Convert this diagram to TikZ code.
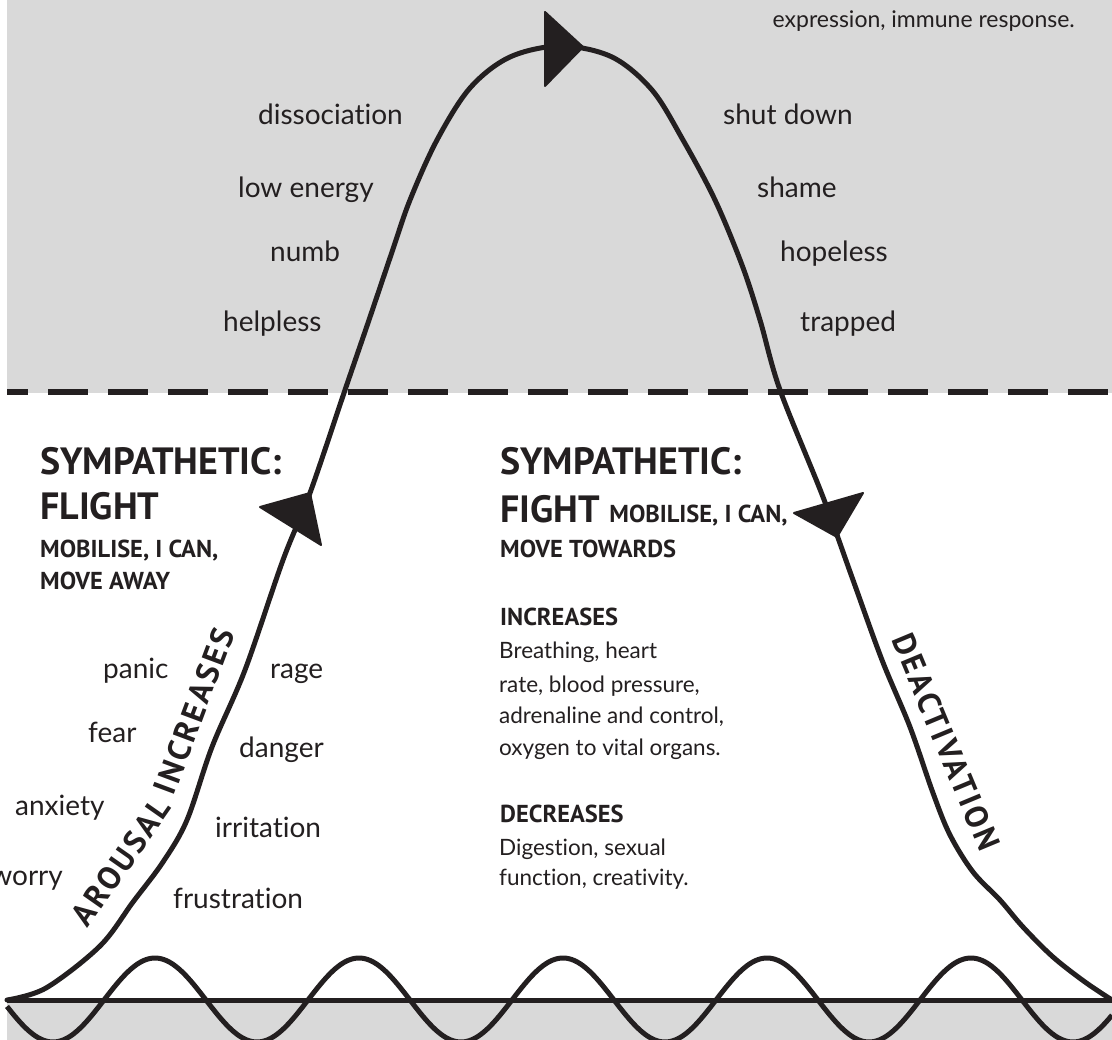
\documentclass[tikz,border=0pt]{standalone}
\usepackage{fontspec}
\setmainfont{Lato}[Ligatures=NoCommon]
\newfontfamily\headfont{PT Sans}
\newfontfamily\pathfont{PT Sans}[LetterSpace=8]
\definecolor{ink}{HTML}{231F20}
\definecolor{shadegray}{HTML}{D9D9D9}
\begin{document}
\begin{tikzpicture}[x=1pt,y=-1pt,
  word/.style={font=\fontsize{28}{30}\selectfont, text=ink, inner sep=0pt},
  toptext/.style={font=\fontsize{23}{25}\selectfont, text=ink, inner sep=0pt},
  body/.style={font=\fontsize{22.5}{24}\selectfont, text=ink, inner sep=0pt},
  bighead/.style={font=\headfont\bfseries\fontsize{38}{40}\selectfont, text=ink, inner sep=0pt},
  smallhead/.style={font=\headfont\bfseries\fontsize{24.5}{26}\selectfont, text=ink, inner sep=0pt},
  pathlabel/.style={font=\pathfont\bfseries\fontsize{32}{34}\selectfont, text=ink, inner sep=0pt},
  inkline/.style={draw=ink, line width=5pt},
  dashline/.style={draw=ink, line width=6pt, dash pattern=on 40pt off 20pt, dash phase=19pt},
  tri/.style={fill=ink, draw=ink, line width=2pt, line join=round}
]
\useasboundingbox (0,0) rectangle (1112,1040);
\clip (0,0) rectangle (1112,1040);
% shaded bands
\fill[shadegray] (7,0) rectangle (1112,393);
\fill[shadegray] (7,1000) rectangle (1112,1040);
\draw[dashline] (7,392) -- (1112,392);
% baseline and wave
\draw[inkline] (7,1000) -- (1112,1000);
\draw[inkline, line join=round] plot[domain=7:1112, samples=240, smooth] (\x, {1000 + 42*sin((\x-2)/204*360)});
% main curve
\draw[inkline, line cap=round, line join=round] plot[smooth, tension=0.55] coordinates {
 (7,1000) (46,988) (100,946) (133,902) (163,862) (187,820) (212,747) (245,670)
 (283,560) (310,493) (345,390) (369,320) (392,252) (410,200) (437,140) (470,88)
 (510,57) (561,46) (612,57) (652,90) (683,140) (715,200)
 (742,265) (760,320) (780,390) (823,497) (853,580) (882,660) (910,727) (933,793)
 (950,835) (973,872) (1000,900) (1023,927) (1053,957) (1085,982) (1112,1000)};
% arrowheads
\fill[tri] (545,12) -- (583,47) -- (545,86) -- cycle;
\fill[tri] (260,507) -- (310,493) -- (321,545) -- cycle;
\fill[tri] (794,513) -- (863,493) -- (837,537) -- cycle;
% top texts
\node[toptext, anchor=base east] (expr) at (1075,28) {expression, immune response.};
\node[word, anchor=base west] (diss) at (258,125) {dissociation};
\node[word, anchor=base west] (lowe) at (238,198) {low energy};
\node[word, anchor=base west] (numb) at (270,262) {numb};
\node[word, anchor=base west] (help) at (223,332) {helpless};
\node[word, anchor=base west] (shut) at (723,125) {shut down};
\node[word, anchor=base west] (shame) at (757,198) {shame};
\node[word, anchor=base west] (hope) at (780,262) {hopeless};
\node[word, anchor=base west] (trap) at (800,332) {trapped};
% left headings
\node[bighead, anchor=base west] (symL) at (40,475) {SYMPATHETIC:};
\node[bighead, anchor=base west] (flight) at (40,520) {FLIGHT};
\node[smallhead, anchor=base west] (mobL) at (40,558) {MOBILISE, I CAN,};
\node[smallhead, anchor=base west] (away) at (40,590) {MOVE AWAY};
% left words
\node[word, anchor=base west] (panic) at (103,678) {panic};
\node[word, anchor=base west] (fear) at (88,742) {fear};
\node[word, anchor=base west] (anx) at (15,815) {anxiety};
\node[word, anchor=base east] (worry) at (63,885) {worry};
\node[word, anchor=base west] (rage) at (270,678) {rage};
\node[word, anchor=base west] (danger) at (239,757) {danger};
\node[word, anchor=base west] (irr) at (215,837) {irritation};
\node[word, anchor=base west] (frus) at (173,908) {frustration};
% labels along the curve
\node[pathlabel, rotate=55] (arousal) at (121,862) {AROUSAL};
\node[pathlabel, rotate=69.5] (incr) at (194,711) {INCREASES};
\node[pathlabel, rotate=-67.4] (deact) at (946,742) {DEACTIVATION};
% centre headings
\node[bighead, anchor=base west] (symR) at (500,475) {SYMPATHETIC:};
\node[bighead, anchor=base west] (fight) at (500,522) {FIGHT {\fontsize{24.5}{26}\selectfont MOBILISE, I CAN,}};
\node[smallhead, anchor=base west] (towards) at (500,558) {MOVE TOWARDS};
\node[smallhead, anchor=base west] (inc) at (500,625) {INCREASES};
\node[body, anchor=base west] (b1) at (499,658) {Breathing, heart};
\node[body, anchor=base west] (b2) at (499,692) {rate, blood pressure,};
\node[body, anchor=base west] (b3) at (499,723) {adrenaline and control,};
\node[body, anchor=base west] (b4) at (499,755) {oxygen to vital organs.};
\node[smallhead, anchor=base west] (dec) at (500,822) {DECREASES};
\node[body, anchor=base west] (d1) at (499,855) {Digestion, sexual};
\node[body, anchor=base west] (d2) at (499,885) {function, creativity.};
\end{tikzpicture}
\end{document}
